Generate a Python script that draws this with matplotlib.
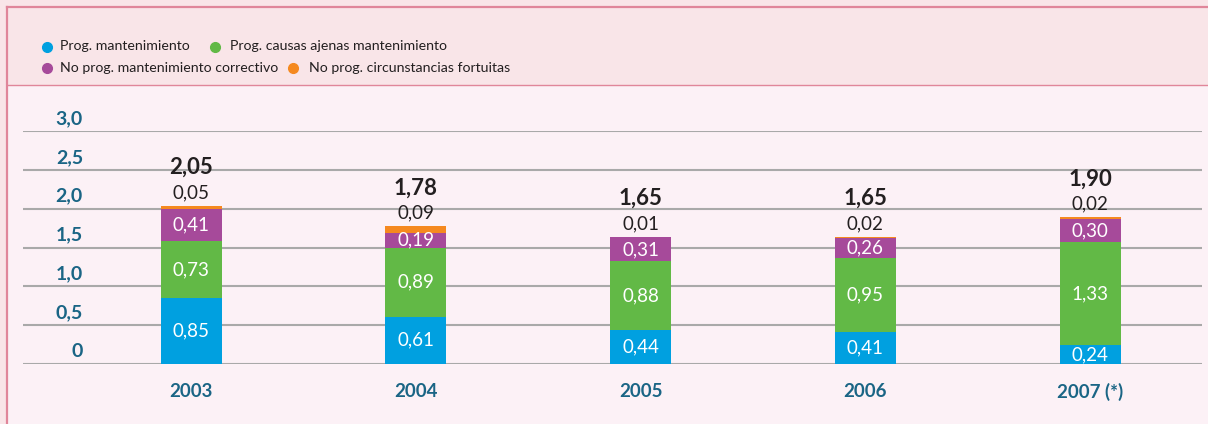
import matplotlib
matplotlib.use('Agg')
import matplotlib.pyplot as plt
from matplotlib.patches import Rectangle
from matplotlib.lines import Line2D
from matplotlib.transforms import ScaledTranslation
import numpy as np

plt.rcParams['font.family'] = ['Lato', 'DejaVu Sans']

# Data
years = ['2003', '2004', '2005', '2006', '2007 (*)']
prog_mant = [0.85, 0.61, 0.44, 0.41, 0.24]
prog_ajenas = [0.73, 0.89, 0.88, 0.95, 1.33]
noprog_correctivo = [0.41, 0.19, 0.31, 0.26, 0.30]
noprog_fortuitas = [0.05, 0.09, 0.01, 0.02, 0.02]
totals = [2.05, 1.78, 1.65, 1.65, 1.90]
series_names = ['Prog. mantenimiento', 'Prog. causas ajenas mantenimiento',
                'No prog. mantenimiento correctivo', 'No prog. circunstancias fortuitas']
yticks = [0, 0.5, 1.0, 1.5, 2.0, 2.5, 3.0]

colors = ['#00a0e0', '#62b946', '#a64a9a', '#f5891f']
teal = '#1a6585'
border = '#e0869a'

W, H = 1208, 424
fig = plt.figure(figsize=(W / 100, H / 100), dpi=100, facecolor='#f9e5e8')

def fx(px):
    return px / W

def fy(py):
    return 1 - py / H

# plot area background + borders
fig.patches.append(Rectangle((fx(7), 0), 1 - fx(7), fy(85), transform=fig.transFigure,
                             facecolor='#fcf1f6', edgecolor='none', zorder=-5))
fig.add_artist(Line2D([fx(7), fx(7)], [0, fy(7)], color=border, lw=1.6, zorder=-4))
fig.add_artist(Line2D([fx(7), 1], [fy(7), fy(7)], color=border, lw=1.6, zorder=-4))
fig.add_artist(Line2D([fx(7), 1], [fy(85), fy(85)], color=border, lw=1.0, zorder=-4))

# legend (manual, two rows)
leg_pos = [(46.7, 46.5, 60), (215, 46.5, 230), (46.7, 68, 60), (293, 68, 309)]
for (mx, my, tx), c, name in zip(leg_pos, colors, series_names):
    fig.add_artist(Line2D([fx(mx)], [fy(my)], marker='o', ms=7, color=c, lw=0))
    fig.text(fx(tx), fy(my), name, fontsize=10.2, color='#231f20', va='center', ha='left')

# axes
left, right, bottom, top = 23, 1202, 364, 131
ax = fig.add_axes([fx(left), fy(bottom), fx(right) - fx(left), fy(top) - fy(bottom)])
ax.set_facecolor('none')
x = np.arange(len(years))
width = 61 / 224.75
ax.set_xlim(-(191 - left) / 224.75, 4 + (right - 1090) / 224.75)
ax.set_ylim(0, 3.0)

bottoms = np.zeros(len(years))
for vals, c in zip([prog_mant, prog_ajenas, noprog_correctivo, noprog_fortuitas], colors):
    ax.bar(x, vals, width, bottom=bottoms, color=c, zorder=3, clip_on=False)
    bottoms += np.array(vals)

# segment labels
bot = np.zeros(len(years))
for vals in [prog_mant, prog_ajenas, noprog_correctivo]:
    for i, v in enumerate(vals):
        ax.text(x[i], bot[i] + v / 2, f'{v:.2f}'.replace('.', ','), ha='center', va='center',
                color='white', fontsize=13.5, zorder=4)
    bot += np.array(vals)
for i, v in enumerate(noprog_fortuitas):
    top_y = bot[i] + v
    off = ScaledTranslation(0, 0.13, fig.dpi_scale_trans)
    ax.text(x[i], top_y, f'{v:.2f}'.replace('.', ','), ha='center', va='center',
            color='#231f20', fontsize=13.5, transform=ax.transData + off, zorder=4)
    off2 = ScaledTranslation(0, 0.38, fig.dpi_scale_trans)
    ax.text(x[i], top_y, f'{totals[i]:.2f}'.replace('.', ','), ha='center', va='center',
            color='#231f20', fontsize=16, fontweight='bold', transform=ax.transData + off2, zorder=4)

# grid
ax.set_yticks(yticks)
ax.set_yticklabels(['0' if t == 0 else f'{t:.1f}'.replace('.', ',') for t in yticks])
ax.yaxis.grid(True, color='#a9a9a9', lw=1.5, zorder=1)
ax.set_axisbelow(True)
# pad in points: label right edge at x=83 px
ax.tick_params(axis='y', length=0, pad=-(83 - left) * 0.72, labelsize=14, labelcolor=teal)
for lab in ax.get_yticklabels():
    lab.set_fontweight('bold')
    lab.set_transform(lab.get_transform() + ScaledTranslation(0, 0.14, fig.dpi_scale_trans))

ax.set_xticks(x)
ax.set_xticklabels(years, fontweight='bold')
ax.tick_params(axis='x', length=0, pad=13.5, labelsize=13.5, labelcolor=teal)

for s in ax.spines.values():
    s.set_visible(False)

fig.savefig('out.png', dpi=100, facecolor=fig.get_facecolor())
